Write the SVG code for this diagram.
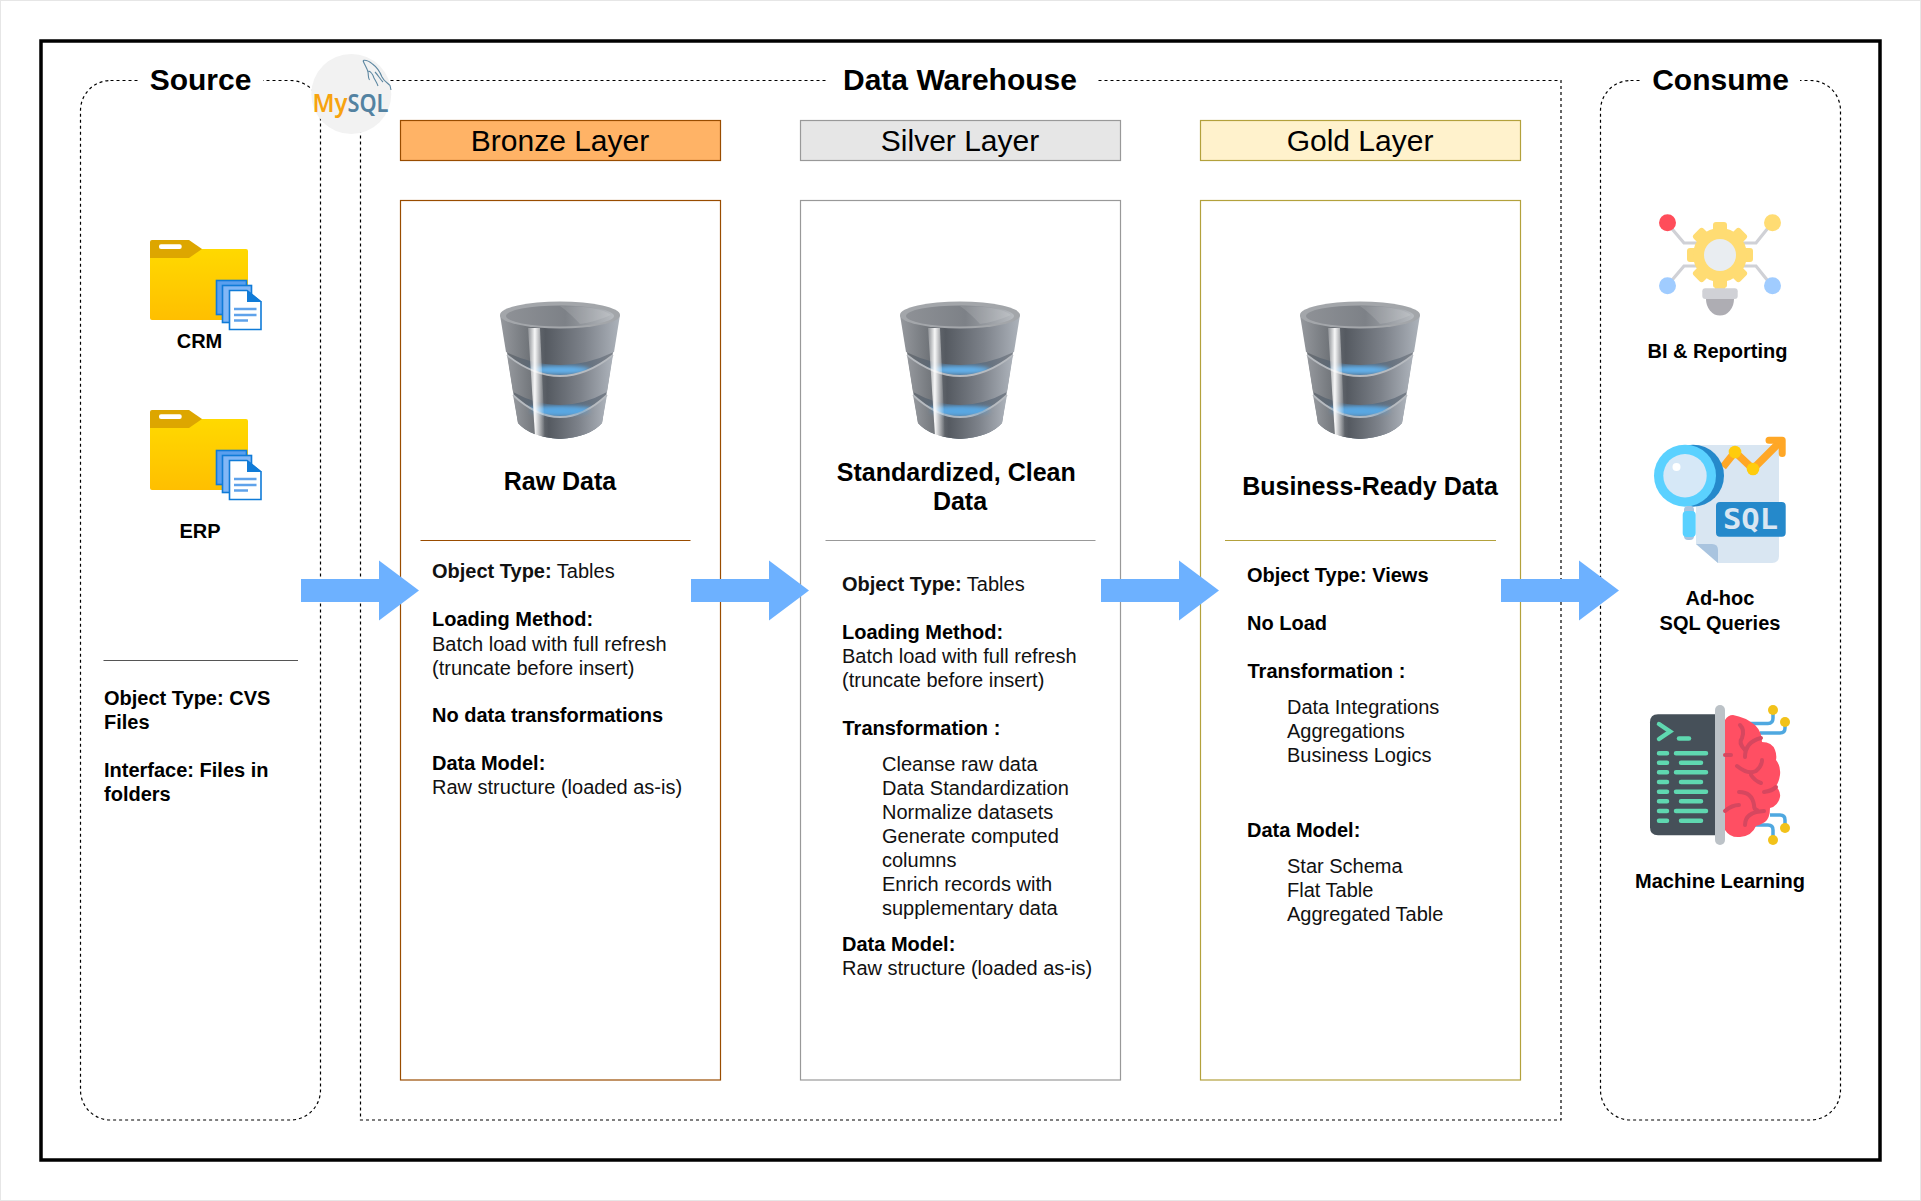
<svg xmlns="http://www.w3.org/2000/svg" width="1921" height="1201" viewBox="0 0 1921 1201">
<style>
text{font-family:"Liberation Sans",Arial,sans-serif;fill:#000}
.t{font-size:20px;fill:#111}
.b{font-size:20px;font-weight:700}
.m{text-anchor:middle}
.title{font-size:30px;font-weight:700;text-anchor:middle}
.layer{font-size:30px;text-anchor:middle}
.head{font-size:25px;font-weight:700;text-anchor:middle}
.dash{fill:none;stroke:#000;stroke-width:1.2;stroke-dasharray:3 3}
.cover{fill:#fff}
.arrow{fill:#6db1ff}
</style>
<defs>
<linearGradient id="fg" x1="0" y1="0" x2="0" y2="1"><stop offset="0" stop-color="#ffd900"/><stop offset="1" stop-color="#ffbf00"/></linearGradient>
<linearGradient id="db" x1="0" y1="0" x2="1" y2="0"><stop offset="0" stop-color="#96999e"/><stop offset=".22" stop-color="#74787d"/><stop offset=".38" stop-color="#555a61"/><stop offset=".7" stop-color="#7d828a"/><stop offset="1" stop-color="#adb3bb"/></linearGradient>
<linearGradient id="dbgap" x1="0" y1="0" x2="1" y2="0"><stop offset="0" stop-color="#6b6f74"/><stop offset=".5" stop-color="#4a5e73"/><stop offset="1" stop-color="#7d828a"/></linearGradient>
<linearGradient id="dbtop" x1="0" y1="0" x2="1" y2="0"><stop offset="0" stop-color="#8e9196"/><stop offset=".55" stop-color="#7d8187"/><stop offset="1" stop-color="#b7bbc0"/></linearGradient>
<linearGradient id="hl" x1="0" y1="0" x2="1" y2="0"><stop offset="0" stop-color="#fff" stop-opacity=".2"/><stop offset=".4" stop-color="#fff" stop-opacity=".95"/><stop offset="1" stop-color="#fff" stop-opacity="0"/></linearGradient>
<filter id="soft" x="-30%" y="-100%" width="160%" height="300%"><feGaussianBlur stdDeviation="2.2"/></filter>
<symbol id="folder" overflow="visible">
<rect x="0" y="9" width="98" height="71" rx="2" fill="url(#fg)"/>
<path d="M2 0H39L52 9L39 18H0V2Q0 0 2 0Z" fill="#dda600"/>
<rect x="9" y="4.300" width="22.700" height="4.600" rx="2" fill="#fff"/>
<rect x="66.500" y="40.500" width="30" height="34" fill="#5a9fee" stroke="#0f7bd8" stroke-width="1.600"/>
<rect x="72.500" y="45.500" width="29" height="37" fill="#82b7f6" stroke="#0f7bd8" stroke-width="1.600"/>
<path d="M79.500 50.500H97L111 62V89.500H79.500Z" fill="#fff" stroke="#0f7bd8" stroke-width="1.600"/>
<path d="M97 50L112 62H97Z" fill="#0f7bd8"/>
<path d="M84 69H106.500M84 75H106.500M84 80.500H98" stroke="#5fa2ea" stroke-width="2.400" fill="none"/>
</symbol>
<symbol id="db-icon" overflow="visible">
<path d="M37 72H143L132 143Q120 157 90 159Q60 157 48 143Z" fill="url(#dbgap)"/>
<ellipse cx="90" cy="90" rx="30" ry="4.500" fill="#63b0ea" filter="url(#soft)"/>
<ellipse cx="90" cy="131" rx="36" ry="5" fill="#63b0ea" filter="url(#soft)"/>
<path d="M43 115Q90 159 137 115L132 143Q120 157 90 159Q60 157 48 143Z" fill="url(#db)"/>
<path d="M43 115Q90 159 137 115" fill="none" stroke="#b7bbc0" stroke-width="1.800"/>
<ellipse cx="90" cy="131" rx="30" ry="3.500" fill="#4f9fdc" filter="url(#soft)" opacity=".55"/>
<path d="M37 75Q90 117 143 75L137 112Q90 138 43 112Z" fill="url(#db)"/>
<path d="M37 75Q90 117 143 75" fill="none" stroke="#b7bbc0" stroke-width="1.800"/>
<path d="M30 35L36 72Q90 98 144 72L150 35Z" fill="url(#db)"/>
<ellipse cx="90" cy="35" rx="60" ry="13.500" fill="#a3a6aa"/>
<ellipse cx="90" cy="36" rx="54" ry="10.500" fill="url(#dbtop)"/>
<path d="M90 26Q130 26 141 35Q125 42 110 44Q100 33 90 26Z" fill="#fff" opacity=".12"/>
<path d="M58 48H70L75 156H65Z" fill="url(#hl)"/>
</symbol>
</defs>

<rect x="0.500" y="0.500" width="1920" height="1200" fill="#fff" stroke="#e6e6e6"/>
<g id="frame"><rect x="41" y="41" width="1839" height="1119" fill="none" stroke="#000" stroke-width="3.500"/></g>

<g id="source">
<rect class="dash" x="80.500" y="80.500" width="240" height="1039.500" rx="30"/>
<rect class="cover" x="138" y="70" width="125" height="22"/>
<text class="title" x="200.500" y="90">Source</text>
<use href="#folder" x="150" y="240"/>
<text class="b m" x="199.500" y="348">CRM</text>
<use href="#folder" x="150" y="410"/>
<text class="b m" x="200" y="538">ERP</text>
<line x1="103.500" y1="660.500" x2="298" y2="660.500" stroke="#555" stroke-width="1.200"/>
<text class="b" x="104" y="705">Object Type: CVS</text>
<text class="b" x="104" y="729">Files</text>
<text class="b" x="104" y="777">Interface: Files in</text>
<text class="b" x="104" y="801">folders</text>
</g>

<g id="data-warehouse">
<rect class="dash" x="360.500" y="80.500" width="1200.500" height="1039.500"/>
<rect class="cover" x="826" y="70" width="272" height="22"/>
<text class="title" x="960" y="90">Data Warehouse</text>
</g>

<g id="mysql">
<circle cx="351.300" cy="94" r="40" fill="#f2f2f2"/>
<path d="M363 60.500C367 59.500 370 62 372.500 64C376 66.500 380 72 382 77C384 81.500 388 83 390 85.500L391 90M363 60.500C364.500 65 367 68 368 72C368.500 75 368 78 369.500 80M368.500 71C372 72 373 75 374 78C375 80 377 83 378 86M375 72C378 75 380 79 383 82" fill="none" stroke="#5d87a1" stroke-width="1.100"/>
<text x="312.500" y="111.500" font-size="26" font-weight="600" textLength="35" lengthAdjust="spacingAndGlyphs" style="fill:#f7a30f;font-family:'Noto Sans','Liberation Sans',sans-serif">My</text>
<text x="347.500" y="111.500" font-size="26" font-weight="600" textLength="41" lengthAdjust="spacingAndGlyphs" style="fill:#5382a1;font-family:'Noto Sans','Liberation Sans',sans-serif">SQL</text>
</g>

<g id="bronze-layer">
<rect x="400.500" y="120.500" width="320" height="40" fill="#ffb366" stroke="#994c00" stroke-width="1.200"/>
<text class="layer" x="560" y="151">Bronze Layer</text>
</g>
<g id="bronze-body">
<rect x="400.500" y="200.500" width="320" height="879.500" fill="#fff" stroke="#994c00" stroke-width="1.200"/>
<use href="#db-icon" x="470" y="280"/>
<text class="head" x="560" y="490">Raw Data</text>
<line x1="420.500" y1="540.500" x2="690.500" y2="540.500" stroke="#994c00" stroke-width="1.200"/>
<text class="t" x="432" y="578"><tspan class="b">Object Type:</tspan> Tables</text>
<text class="b" x="432" y="626">Loading Method:</text>
<text class="t" x="432" y="651">Batch load with full refresh</text>
<text class="t" x="432" y="675">(truncate before insert)</text>
<text class="b" x="432" y="722">No data transformations</text>
<text class="b" x="432" y="770">Data Model:</text>
<text class="t" x="432" y="794">Raw structure (loaded as-is)</text>
</g>

<g id="silver-layer">
<rect x="800.500" y="120.500" width="320" height="40" fill="#e6e6e6" stroke="#999" stroke-width="1.200"/>
<text class="layer" x="960" y="151">Silver Layer</text>
</g>
<g id="silver-body">
<rect x="800.500" y="200.500" width="320" height="879.500" fill="#fff" stroke="#999" stroke-width="1.200"/>
<use href="#db-icon" x="870" y="280"/>
<text class="head" x="956.300" y="480.500">Standardized, Clean</text>
<text class="head" x="960" y="510">Data</text>
<line x1="825.500" y1="540.500" x2="1095.500" y2="540.500" stroke="#999" stroke-width="1.200"/>
<text class="t" x="842" y="591"><tspan class="b">Object Type:</tspan> Tables</text>
<text class="b" x="842" y="639">Loading Method:</text>
<text class="t" x="842" y="663">Batch load with full refresh</text>
<text class="t" x="842" y="687">(truncate before insert)</text>
<text class="b" x="842.500" y="735">Transformation :</text>
<text class="t" x="882" y="771">Cleanse raw data</text>
<text class="t" x="882" y="795">Data Standardization</text>
<text class="t" x="882" y="819">Normalize datasets</text>
<text class="t" x="882" y="843">Generate computed</text>
<text class="t" x="882" y="867">columns</text>
<text class="t" x="882" y="891">Enrich records with</text>
<text class="t" x="882" y="915">supplementary data</text>
<text class="b" x="842" y="951">Data Model:</text>
<text class="t" x="842" y="975">Raw structure (loaded as-is)</text>
</g>

<g id="gold-layer">
<rect x="1200.500" y="120.500" width="320" height="40" fill="#fff2cc" stroke="#b3a13c" stroke-width="1.200"/>
<text class="layer" x="1360" y="151">Gold Layer</text>
</g>
<g id="gold-body">
<rect x="1200.500" y="200.500" width="320" height="879.500" fill="#fff" stroke="#b3a13c" stroke-width="1.200"/>
<use href="#db-icon" x="1270" y="280"/>
<text class="head" x="1370" y="495">Business-Ready Data</text>
<line x1="1225" y1="540.500" x2="1496" y2="540.500" stroke="#b3a13c" stroke-width="1.200"/>
<text class="b" x="1247" y="582">Object Type: Views</text>
<text class="b" x="1247" y="630">No Load</text>
<text class="b" x="1247.500" y="678">Transformation :</text>
<text class="t" x="1287" y="714">Data Integrations</text>
<text class="t" x="1287" y="738">Aggregations</text>
<text class="t" x="1287" y="762">Business Logics</text>
<text class="b" x="1247" y="837">Data Model:</text>
<text class="t" x="1287" y="873">Star Schema</text>
<text class="t" x="1287" y="897">Flat Table</text>
<text class="t" x="1287" y="921">Aggregated Table</text>
</g>

<g id="consume">
<rect class="dash" x="1600.500" y="80.500" width="240" height="1039.500" rx="30"/>
<rect class="cover" x="1640" y="70" width="160" height="22"/>
<text class="title" x="1720.500" y="90">Consume</text>
</g>

<g id="bi-reporting">
<g fill="none" stroke="#d0d1d6" stroke-width="3.200">
<path d="M1667 223L1684 243H1700"/><path d="M1772 223L1756 243H1740"/><path d="M1667 286L1684 266H1700"/><path d="M1772 286L1756 266H1740"/>
</g>
<circle cx="1667.500" cy="222.700" r="8.500" fill="#ff4d5a"/><circle cx="1772.500" cy="222.700" r="8.500" fill="#ffdc73"/>
<circle cx="1667.500" cy="285.700" r="8.500" fill="#a0ccff"/><circle cx="1772.500" cy="285.700" r="8.500" fill="#a0ccff"/>
<g fill="#ffdc73">
<rect x="1715" y="280" width="10" height="10"/>
<rect x="1713" y="222" width="14" height="66" rx="3"/><rect x="1713" y="222" width="14" height="66" rx="3" transform="rotate(45 1720 255)"/><rect x="1713" y="222" width="14" height="66" rx="3" transform="rotate(90 1720 255)"/><rect x="1713" y="222" width="14" height="66" rx="3" transform="rotate(135 1720 255)"/>
<circle cx="1720" cy="255" r="27"/>
</g>
<circle cx="1720" cy="255" r="16" fill="#e9edf1"/>
<path d="M1706 299H1734A14 16.500 0 0 1 1706 299Z" fill="#aeadb3"/>
<rect x="1702.300" y="288.300" width="35.400" height="10.700" rx="3" fill="#d0d1d6"/>
<text class="b m" x="1717.500" y="358">BI &amp; Reporting</text>
</g>

<g id="adhoc-sql">
<path d="M1696 445H1779V556Q1779 563 1772 563H1718L1696 544Z" fill="#d9e6f2"/>
<path d="M1696 544H1712Q1718 544 1718 550V563Z" fill="#a9c4df"/>
<path d="M1723 467L1735 452L1753 469L1780 442" fill="none" stroke="#ffa726" stroke-width="7.500"/>
<path d="M1769 440.300H1782.200V453.500" fill="none" stroke="#ffa726" stroke-width="7" stroke-linejoin="round" stroke-linecap="round"/>
<circle cx="1735" cy="452" r="6.300" fill="#ffcc0d"/><circle cx="1753" cy="469" r="6.300" fill="#ffcc0d"/>
<circle cx="1693" cy="475.700" r="31" fill="#2589cb"/>
<circle cx="1685" cy="475.700" r="31" fill="#5ad1ff"/>
<circle cx="1685" cy="475.700" r="21.700" fill="#d6e8f7"/>
<circle cx="1676.500" cy="467" r="4" fill="#fff"/>
<rect x="1684" y="506" width="10" height="34" rx="4" fill="#a9c4df"/>
<rect x="1682.700" y="511" width="13" height="26" rx="4" fill="#5ad1ff"/>
<rect x="1716" y="502" width="69.700" height="34.700" rx="4" fill="#2589cb"/>
<text x="1723" y="529" font-size="28" font-weight="700" textLength="55" lengthAdjust="spacingAndGlyphs" style="fill:#d9e6f2;font-family:'DejaVu Sans Mono','Liberation Mono',monospace">SQL</text>
<text class="b m" x="1720" y="605">Ad-hoc</text>
<text class="b m" x="1720" y="630">SQL Queries</text>
</g>

<g id="machine-learning">
<g fill="none" stroke="#4fa8e0" stroke-width="3.500">
<path d="M1750 723.500H1768Q1773 723.500 1773 718V710"/><path d="M1760 733H1780Q1785 733 1785 728V722"/>
<path d="M1770 815H1780Q1785 815 1785 820V828"/><path d="M1755 825H1768Q1773 825 1773 830V840"/>
</g>
<g fill="#f2c21a"><circle cx="1773" cy="710" r="5"/><circle cx="1785" cy="722" r="5"/><circle cx="1785" cy="828" r="5"/><circle cx="1773" cy="840" r="5"/></g>
<path d="M1658 714.300H1717V835.300H1658Q1650 835.300 1650 827.300V722.300Q1650 714.300 1658 714.300Z" fill="#465059"/>
<rect x="1715" y="705" width="10" height="140" rx="5" fill="#bcc2c7"/>
<g fill="none" stroke="#5fd8b0" stroke-width="4.500" stroke-linecap="round">
<path d="M1659 724L1670 731.500L1659 739"/><path d="M1679 738.500H1689"/>
<path d="M1659 753.300H1667M1676 753.300H1706"/><path d="M1659 762.700H1667M1681 762.700H1701"/>
<path d="M1659 772.300H1667M1676 772.300H1706"/><path d="M1659 782H1667M1681 782H1701"/>
<path d="M1659 791.700H1667M1676 791.700H1706"/><path d="M1659 801.300H1667M1681 801.300H1701"/>
<path d="M1659 811H1667M1676 811H1706"/><path d="M1659 820.700H1667M1681 820.700H1701"/>
</g>
<path d="M1725 720Q1728 715 1733 715Q1745 717 1755 725Q1762 732 1762 742Q1772 742 1775 750Q1777 755 1776 760Q1781 766 1780 775Q1779 782 1776 786Q1781 792 1780 797Q1778 806 1770 808Q1770 818 1765 822Q1760 825 1756 826Q1752 836 1740 837Q1730 838 1725 830Z" fill="#ff4f63"/>
<g fill="none" stroke="#d6475f" stroke-width="4" stroke-linecap="round">
<path d="M1740 725Q1745 730 1742 738Q1738 743 1745 750"/><path d="M1725 755H1731"/>
<path d="M1761 738Q1745 742 1745 757"/><path d="M1737 766Q1748 775 1756 771Q1762 766 1762 760"/>
<path d="M1751 775Q1755 781 1761 783"/><path d="M1764 792Q1772 791 1776 787"/>
<path d="M1739 792Q1752 792 1754 805Q1754 810 1757 810"/><path d="M1725 811Q1732 805 1739 805"/>
<path d="M1745 825Q1745 812 1764 811"/>
</g>
<text class="b m" x="1720" y="888">Machine Learning</text>
</g>

<g id="connectors">
<path class="arrow" d="M301 579H379V560.500L419 590.500L379 620.500V602H301Z"/>
<path class="arrow" d="M691 579H769V560.500L809 590.500L769 620.500V602H691Z"/>
<path class="arrow" d="M1101 579H1179V560.500L1219 590.500L1179 620.500V602H1101Z"/>
<path class="arrow" d="M1501 579H1579V560.500L1619 590.500L1579 620.500V602H1501Z"/>
</g>
</svg>
